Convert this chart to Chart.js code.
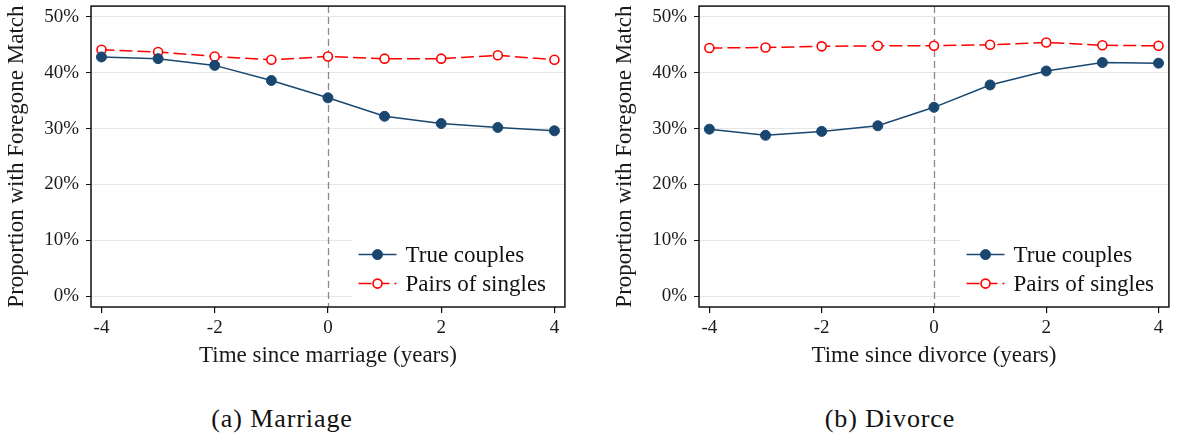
<!DOCTYPE html>
<html>
<head>
<meta charset="utf-8">
<script src="https://cdn.jsdelivr.net/npm/chart.js@4"></script>
<style>
  body { margin: 0; background: #fff; width: 1177px; height: 436px; position: relative; overflow: hidden; }
  canvas { position: absolute; top: 0; }
  #marriage { left: 0; }
  #divorce { left: 608px; }
  .caption { position: absolute; top: 404px; font-family: 'Liberation Serif', serif; font-size: 26px; color: #111; letter-spacing: 0.9px; transform: translateX(-50%); white-space: nowrap; }
</style>
</head>
<body>
<canvas id="marriage" width="571" height="375"></canvas>
<canvas id="divorce" width="567" height="375"></canvas>
<div class="caption" style="left:282px">(a) Marriage</div>
<div class="caption" style="left:890px">(b) Divorce</div>
<script>
// years relative to the event
const years = [-4, -3, -2, -1, 0, 1, 2, 3, 4];
const xTicks = [-4, -2, 0, 2, 4];
const yTicks = [0, 10, 20, 30, 40, 50];

// share with a foregone match (%)
const marriageCouples = [42.8, 42.5, 41.3, 38.6, 35.5, 32.2, 30.9, 30.2, 29.6];
const marriageSingles = [44.1, 43.7, 42.9, 42.3, 42.9, 42.5, 42.5, 43.1, 42.3];
const divorceCouples = [29.9, 28.8, 29.5, 30.5, 33.8, 37.8, 40.3, 41.8, 41.7];
const divorceSingles = [44.4, 44.5, 44.7, 44.8, 44.8, 45.0, 45.4, 44.9, 44.8];

const seriesNames = ['True couples', 'Pairs of singles'];
const navy = '#1a476f';
const red = '#ff0000';

Chart.defaults.font.family = "'Liberation Serif', 'Times New Roman', serif";
Chart.defaults.color = '#1a1a1a';

const toPoints = vals => years.map((t, i) => ({ x: t, y: vals[i] }));

// dashed vertical line at the event year
const eventLine = {
  id: 'eventLine',
  beforeDatasetsDraw(chart) {
    const { ctx, chartArea, scales } = chart;
    const x = Math.round(scales.x.getPixelForValue(0)) + 0.5;
    ctx.save();
    ctx.strokeStyle = '#8a8a8a';
    ctx.lineWidth = 1.3;
    ctx.setLineDash([7, 4]);
    ctx.beginPath();
    ctx.moveTo(x, chartArea.top);
    ctx.lineTo(x, chartArea.bottom);
    ctx.stroke();
    ctx.restore();
  }
};

// plot frame plus a legend box in the lower right corner
const frameAndLegend = {
  id: 'frameAndLegend',
  afterDraw(chart) {
    const { ctx, chartArea: a } = chart;
    const ds = chart.data.datasets;
    ctx.save();
    const bx = a.left + 261.5;
    ctx.fillStyle = '#fff';
    ctx.fillRect(bx, a.top + 228, a.right - bx - 1, a.bottom - a.top - 229);

    const rows = [a.top + 248.5, a.top + 277.5];
    ds.forEach((d, i) => {
      const y = rows[i];
      ctx.strokeStyle = d.borderColor;
      ctx.lineWidth = 1.5;
      ctx.setLineDash(d.borderDash || []);
      ctx.beginPath();
      ctx.moveTo(bx + 6, y);
      ctx.lineTo(bx + 44, y);
      ctx.stroke();
      ctx.setLineDash([]);
      ctx.beginPath();
      ctx.arc(bx + 25, y, d.pointRadius, 0, Math.PI * 2);
      ctx.fillStyle = d.pointBackgroundColor;
      ctx.fill();
      ctx.lineWidth = d.pointBorderWidth;
      ctx.strokeStyle = d.pointBorderColor;
      ctx.stroke();
      ctx.fillStyle = '#111';
      ctx.font = "23px 'Liberation Serif', serif";
      ctx.textBaseline = 'middle';
      ctx.fillText(d.label, bx + 53, y + 1);
    });

    ctx.strokeStyle = '#111';
    ctx.lineWidth = 1.5;
    ctx.strokeRect(a.left, a.top, a.right - a.left, a.bottom - a.top);
    ctx.restore();
  }
};

function makeChart(id, xTitle, couples, singles) {
  return new Chart(document.getElementById(id), {
    type: 'line',
    data: {
      datasets: [{
        label: seriesNames[0],
        data: toPoints(couples),
        borderColor: navy,
        borderWidth: 1.5,
        pointRadius: 5,
        pointBackgroundColor: navy,
        pointBorderColor: navy,
        pointBorderWidth: 1,
        tension: 0
      }, {
        label: seriesNames[1],
        data: toPoints(singles),
        borderColor: red,
        borderWidth: 1.5,
        borderDash: [13, 5],
        pointRadius: 4.5,
        pointBackgroundColor: '#fff',
        pointBorderColor: red,
        pointBorderWidth: 1.6,
        tension: 0
      }]
    },
    options: {
      responsive: false,
      animation: false,
      layout: { padding: { top: 5.5, left: 0, right: 0, bottom: 0 } },
      plugins: { legend: { display: false }, tooltip: { enabled: false } },
      scales: {
        x: {
          type: 'linear',
          min: -4.185,
          max: 4.185,
          afterBuildTicks: s => { s.ticks = xTicks.map(v => ({ value: v })); },
          afterFit: s => { s.height = 68; s.paddingLeft = 0; s.paddingRight = 0; },
          border: { display: false },
          grid: { drawOnChartArea: false, tickLength: 6, tickColor: '#111', lineWidth: 1.2 },
          ticks: { font: { size: 19 }, padding: 4, maxRotation: 0 },
          title: { display: true, text: xTitle, font: { size: 23 }, padding: { top: 0, bottom: 5 } }
        },
        y: {
          min: -1.9,
          max: 51.9,
          afterBuildTicks: s => { s.ticks = yTicks.map(v => ({ value: v })); },
          afterFit: s => { s.width = 91; s.paddingTop = 0; s.paddingBottom = 0; },
          border: { display: false },
          grid: { color: '#e6e6e6', lineWidth: 1, tickLength: 5, tickColor: '#111' },
          ticks: { font: { size: 19 }, padding: 7, callback: v => v + '%' },
          title: { display: true, text: 'Proportion with Foregone Match', font: { size: 23 }, padding: { top: 3, bottom: 0 } }
        }
      }
    },
    plugins: [eventLine, frameAndLegend]
  });
}

makeChart('marriage', 'Time since marriage (years)', marriageCouples, marriageSingles);
makeChart('divorce', 'Time since divorce (years)', divorceCouples, divorceSingles);
</script>
</body>
</html>
